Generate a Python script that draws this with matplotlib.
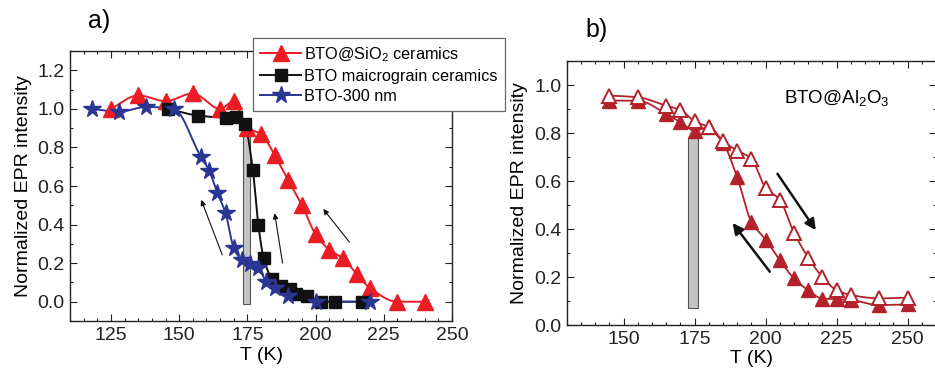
import numpy as np
import matplotlib
matplotlib.use("Agg")
import matplotlib.pyplot as plt
from matplotlib.ticker import MultipleLocator

plt.rcParams['font.family'] = ['Liberation Sans', 'DejaVu Sans']
plt.rcParams['mathtext.fontset'] = 'custom'
plt.rcParams['mathtext.rm'] = 'Liberation Sans'
plt.rcParams['mathtext.it'] = 'Liberation Sans'
plt.rcParams['mathtext.default'] = 'regular'

# ---------------- data: panel a ----------------
sio2_T = [125, 135, 145, 155, 165, 170, 175, 180, 185, 190, 195, 200, 205, 210, 215, 220, 230, 240]
sio2_I = [1.0, 1.07, 1.04, 1.08, 1.0, 1.04, 0.90, 0.87, 0.76, 0.63, 0.50, 0.35, 0.27, 0.225, 0.145, 0.07, 0.0, 0.0]

micro_T = [146, 157, 167, 171, 174, 177, 179, 181, 184, 187.5, 190.5, 193, 197, 202, 207, 217]
micro_I = [1.0, 0.965, 0.955, 0.96, 0.92, 0.685, 0.40, 0.225, 0.12, 0.08, 0.065, 0.04, 0.03, 0.0, 0.0, 0.0]

nano_T = [118, 128, 138, 148, 158, 161, 164, 167, 170, 173, 176, 179, 182, 185, 190, 200, 220]
nano_I = [1.0, 0.985, 1.01, 1.0, 0.75, 0.68, 0.565, 0.46, 0.28, 0.217, 0.197, 0.176, 0.102, 0.07, 0.032, 0.0, 0.0]

labels_a = [r'BTO@SiO$_2$ ceramics', 'BTO maicrograin ceramics', 'BTO-300 nm']

bar_a_T = [173.5, 176.1]
bar_a_I = [-0.012, 0.86]

arrows_a = [((165.8, 0.243), (158.1, 0.528)),
            ((187.9, 0.200), (185.0, 0.459)),
            ((212.4, 0.309), (202.8, 0.481))]

# ---------------- data: panel b ----------------
cool_T = [145, 155, 165, 170, 175, 180, 185, 190, 195, 200, 205, 210, 215, 220, 225, 230, 240, 250]
cool_I = [0.935, 0.935, 0.88, 0.845, 0.81, 0.824, 0.76, 0.616, 0.43, 0.356, 0.27, 0.194, 0.145, 0.11, 0.108, 0.104, 0.083, 0.086]

heat_T = [145, 155, 165, 170, 175, 180, 185, 190, 195, 200, 205, 210, 215, 220, 225, 230, 240, 250]
heat_I = [0.956, 0.949, 0.914, 0.896, 0.849, 0.824, 0.765, 0.727, 0.693, 0.572, 0.522, 0.385, 0.281, 0.20, 0.145, 0.125, 0.111, 0.114]

bar_b_T = [172.8, 176.1]
bar_b_I = [0.07, 0.78]

arrows_b = [((204.2, 0.63), (217.7, 0.395)),
            ((201.5, 0.222), (188.4, 0.425))]

label_b = r'BTO@Al$_2$O$_3$'


def smooth(x, y, n=30):
    """Monotone cubic (Fritsch-Carlson) curve through the points, for drawing."""
    x = np.asarray(x, float); y = np.asarray(y, float)
    h = np.diff(x); d = np.diff(y) / h
    m = np.zeros_like(x)
    m[0], m[-1] = d[0], d[-1]
    for i in range(1, len(x) - 1):
        if d[i - 1] * d[i] <= 0:
            m[i] = 0.0
        else:
            w1 = 2 * h[i] + h[i - 1]; w2 = h[i] + 2 * h[i - 1]
            m[i] = (w1 + w2) / (w1 / d[i - 1] + w2 / d[i])
    xs, ys = [], []
    for i in range(len(x) - 1):
        t = np.linspace(0, 1, n, endpoint=False)
        h00 = 2 * t**3 - 3 * t**2 + 1; h10 = t**3 - 2 * t**2 + t
        h01 = -2 * t**3 + 3 * t**2; h11 = t**3 - t**2
        xs.append(x[i] + t * h[i])
        ys.append(h00 * y[i] + h10 * h[i] * m[i] + h01 * y[i + 1] + h11 * h[i] * m[i + 1])
    xs.append([x[-1]]); ys.append([y[-1]])
    return np.concatenate(xs), np.concatenate(ys)


def style_axes(ax):
    ax.tick_params(which='both', direction='in', top=True, right=True, width=0.8, colors='#222222')
    ax.tick_params(which='major', length=5, labelsize=14, pad=4)
    ax.tick_params(which='minor', length=2.5)
    for s in ax.spines.values():
        s.set_linewidth(1.0)
        s.set_color('#222222')


fig = plt.figure(figsize=(9.35, 3.73), dpi=100)

# ---------------- panel a ----------------
ax1 = fig.add_axes([70 / 935, 1 - 321 / 373, 382 / 935, 270 / 373])
red = '#ec1c24'
blk = '#111111'
blu = '#2b3592'

ax1.bar([(bar_a_T[0] + bar_a_T[1]) / 2], [bar_a_I[1] - bar_a_I[0]], width=bar_a_T[1] - bar_a_T[0],
        bottom=bar_a_I[0], color='#c4c4c4', edgecolor='#555555', linewidth=0.8, zorder=1)

for T, I, c, mk, ms, lab in [(sio2_T, sio2_I, red, '^', 11, labels_a[0]),
                             (micro_T, micro_I, blk, 's', 8.5, labels_a[1]),
                             (nano_T, nano_I, blu, '*', 13, labels_a[2])]:
    xs, ys = smooth(T, I)
    ax1.plot(xs, ys, color=c, lw=1.4, zorder=2)
    ax1.plot(T, I, linestyle='none', marker=mk, ms=ms, color=c, mec=c, zorder=3)

handles = [plt.Line2D([], [], color=c, lw=1.4, marker=mk, ms=ms)
           for c, mk, ms in [(red, '^', 11), (blk, 's', 8.5), (blu, '*', 13)]]

for (x0, y0), (x1, y1) in arrows_a:
    ax1.annotate('', xy=(x1, y1), xytext=(x0, y0),
                 arrowprops=dict(arrowstyle='-|>', lw=0.8, color='#111111', mutation_scale=8,
                                 shrinkA=0, shrinkB=0))

ax1.set_xlim(110, 250)
ax1.set_ylim(-0.1, 1.3)
ax1.xaxis.set_minor_locator(MultipleLocator(5))
ax1.yaxis.set_minor_locator(MultipleLocator(0.1))
ax1.set_xticks([125, 150, 175, 200, 225, 250])
ax1.set_yticks([0.0, 0.2, 0.4, 0.6, 0.8, 1.0, 1.2])
style_axes(ax1)
ax1.set_xlabel('T (K)', fontsize=14, labelpad=2.5)
ax1.set_ylabel('Normalized EPR intensity', fontsize=14, labelpad=4)

leg = ax1.legend(handles, labels_a, loc='upper left', bbox_to_anchor=(253 / 935, 1 - 38 / 373),
                 bbox_transform=fig.transFigure, fontsize=11.7, frameon=True, fancybox=False,
                 edgecolor='#666666', framealpha=1, borderaxespad=0, borderpad=0.45,
                 handlelength=2.5, handletextpad=0.2, labelspacing=0.32)
leg.get_frame().set_linewidth(0.9)
leg.set_zorder(10)

fig.text(88 / 935, 1 - 21 / 373, 'a)', fontsize=18, va='center', ha='left')

# ---------------- panel b ----------------
ax2 = fig.add_axes([566.7 / 935, 1 - 325 / 373, (936 - 566.7) / 935, 264 / 373])
dred = '#b3222b'

ax2.bar([(bar_b_T[0] + bar_b_T[1]) / 2], [bar_b_I[1] - bar_b_I[0]], width=bar_b_T[1] - bar_b_T[0],
        bottom=bar_b_I[0], color='#c4c4c4', edgecolor='#555555', linewidth=0.8, zorder=1)

xs, ys = smooth(cool_T, cool_I)
ax2.plot(xs, ys, color=dred, lw=1.3, zorder=2)
ax2.plot(cool_T, cool_I, linestyle='none', marker='^', ms=10, color=dred, mec=dred, zorder=3)
xs, ys = smooth(heat_T, heat_I)
ax2.plot(xs, ys, color=dred, lw=1.3, zorder=2)
ax2.plot(heat_T, heat_I, linestyle='none', marker='^', ms=10, mfc='white', mec=dred, mew=1.4, zorder=4)

for (x0, y0), (x1, y1) in arrows_b:
    ax2.annotate('', xy=(x1, y1), xytext=(x0, y0),
                 arrowprops=dict(arrowstyle='-|>', lw=1.8, color='#111111', mutation_scale=16,
                                 shrinkA=0, shrinkB=0))

ax2.text(206.6, 0.947, label_b, fontsize=13.5, ha='left', va='center')

ax2.set_xlim(130, 260)
ax2.set_ylim(0.0, 1.1)
ax2.set_xticks([150, 175, 200, 225, 250])
ax2.xaxis.set_minor_locator(MultipleLocator(5))
ax2.set_yticks([0.0, 0.2, 0.4, 0.6, 0.8, 1.0])
ax2.yaxis.set_minor_locator(MultipleLocator(0.1))
style_axes(ax2)
ax2.set_xlabel('T (K)', fontsize=14, labelpad=1.5)
ax2.set_ylabel('Normalized EPR intensity', fontsize=14, labelpad=4)

fig.text(585 / 935, 1 - 30 / 373, 'b)', fontsize=18, va='center', ha='left')

fig.savefig('out.png', dpi=100)
